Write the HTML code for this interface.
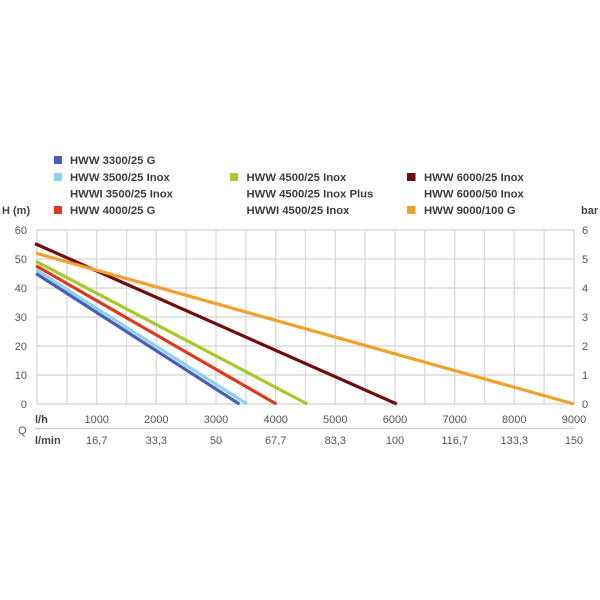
<!DOCTYPE html>
<html><head><meta charset="utf-8"><style>
html,body{margin:0;padding:0;background:#fff;}
svg{display:block;}
text{font-family:"Liberation Sans",sans-serif;}
.leg{font-size:11.3px;font-weight:bold;fill:#3c3c3c;}
.tk{font-size:11px;fill:#555;}
.tb{font-size:11px;fill:#444;font-weight:bold;}
</style></head><body>
<svg width="600" height="600" viewBox="0 0 600 600" xmlns="http://www.w3.org/2000/svg">
<rect width="600" height="600" fill="#fff"/>
<!-- legend -->
<rect x="54" y="156" width="8" height="8" fill="#4a5db6"/>
<text class="leg" x="70" y="164">HWW 3300/25 G</text>
<rect x="54" y="173" width="8" height="8" fill="#8dd2e5"/>
<text class="leg" x="70" y="181">HWW 3500/25 Inox</text>
<text class="leg" x="70" y="197.5">HWWI 3500/25 Inox</text>
<rect x="54" y="206" width="8" height="8" fill="#dc3a1e"/>
<text class="leg" x="70" y="214">HWW 4000/25 G</text>

<rect x="230" y="173" width="8" height="8" fill="#a4c928"/>
<text class="leg" x="246.5" y="181">HWW 4500/25 Inox</text>
<text class="leg" x="246.5" y="197.5">HWW 4500/25 Inox Plus</text>
<text class="leg" x="246.5" y="214">HWWI 4500/25 Inox</text>

<rect x="407" y="173" width="8.5" height="8" fill="#720b0b"/>
<text class="leg" x="424" y="181">HWW 6000/25 Inox</text>
<text class="leg" x="424" y="197.5">HWW 6000/50 Inox</text>
<rect x="407" y="206" width="8.5" height="8" fill="#f2a02c"/>
<text class="leg" x="424" y="214">HWW 9000/100 G</text>

<text class="tb" x="2" y="214" style="font-weight:bold">H (m)</text>
<text class="tb" x="581" y="214">bar</text>

<!-- grid -->
<g stroke="#dadada" stroke-width="1.4" fill="none">
<line x1="37" y1="230" x2="574" y2="230"/>
<line x1="37" y1="259" x2="574" y2="259"/>
<line x1="37" y1="288" x2="574" y2="288"/>
<line x1="37" y1="317" x2="574" y2="317"/>
<line x1="37" y1="346" x2="574" y2="346"/>
<line x1="37" y1="375" x2="574" y2="375"/>
<line x1="37" y1="404" x2="574" y2="404"/>
<line x1="37" y1="230" x2="37" y2="404"/>
<line x1="66.8" y1="230" x2="66.8" y2="404"/>
<line x1="96.7" y1="230" x2="96.7" y2="404"/>
<line x1="126.5" y1="230" x2="126.5" y2="404"/>
<line x1="156.3" y1="230" x2="156.3" y2="404"/>
<line x1="186.2" y1="230" x2="186.2" y2="404"/>
<line x1="216" y1="230" x2="216" y2="404"/>
<line x1="245.8" y1="230" x2="245.8" y2="404"/>
<line x1="275.7" y1="230" x2="275.7" y2="404"/>
<line x1="305.5" y1="230" x2="305.5" y2="404"/>
<line x1="335.3" y1="230" x2="335.3" y2="404"/>
<line x1="365.2" y1="230" x2="365.2" y2="404"/>
<line x1="395" y1="230" x2="395" y2="404"/>
<line x1="424.8" y1="230" x2="424.8" y2="404"/>
<line x1="454.7" y1="230" x2="454.7" y2="404"/>
<line x1="484.5" y1="230" x2="484.5" y2="404"/>
<line x1="514.3" y1="230" x2="514.3" y2="404"/>
<line x1="544.2" y1="230" x2="544.2" y2="404"/>
<line x1="574" y1="230" x2="574" y2="404"/>
</g>

<!-- series -->
<g stroke-width="3.2" fill="none">
<line x1="36" y1="273.5" x2="239.3" y2="404" stroke="#4a5db6"/>
<line x1="36" y1="269.7" x2="247" y2="404" stroke="#8dd2e5"/>
<line x1="36" y1="265.7" x2="276.3" y2="404" stroke="#dc3a1e"/>
<line x1="36" y1="261.3" x2="307.3" y2="404" stroke="#a4c928"/>
<line x1="35" y1="243.6" x2="396.8" y2="404" stroke="#720b0b"/>
<line x1="36" y1="253.2" x2="574" y2="404" stroke="#f2a02c"/>
</g>

<!-- left ticks -->
<g class="tk" text-anchor="end">
<text x="27" y="234">60</text>
<text x="27" y="263">50</text>
<text x="27" y="292">40</text>
<text x="27" y="321">30</text>
<text x="27" y="350">20</text>
<text x="27" y="379">10</text>
<text x="27" y="408">0</text>
</g>
<!-- right ticks -->
<g class="tk">
<text x="582" y="234">6</text>
<text x="582" y="263">5</text>
<text x="582" y="292">4</text>
<text x="582" y="321">3</text>
<text x="582" y="350">2</text>
<text x="582" y="379">1</text>
<text x="582" y="408">0</text>
</g>

<!-- x axis -->
<text class="tb" x="35" y="423">l/h</text>
<g class="tk" text-anchor="middle">
<text x="96.7" y="423">1000</text>
<text x="156.3" y="423">2000</text>
<text x="216" y="423">3000</text>
<text x="275.7" y="423">4000</text>
<text x="335.3" y="423">5000</text>
<text x="395" y="423">6000</text>
<text x="454.7" y="423">7000</text>
<text x="514.3" y="423">8000</text>
<text x="574" y="423">9000</text>
</g>
<line x1="35" y1="428.5" x2="575" y2="428.5" stroke="#d0d0d0" stroke-width="1.5"/>
<text class="tk" x="18" y="434">Q</text>
<text class="tb" x="35" y="444">l/min</text>
<g class="tk" text-anchor="middle">
<text x="96.7" y="444">16,7</text>
<text x="156.3" y="444">33,3</text>
<text x="216" y="444">50</text>
<text x="275.7" y="444">67,7</text>
<text x="335.3" y="444">83,3</text>
<text x="395" y="444">100</text>
<text x="454.7" y="444">116,7</text>
<text x="514.3" y="444">133,3</text>
<text x="574" y="444">150</text>
</g>
</svg>
</body></html>
